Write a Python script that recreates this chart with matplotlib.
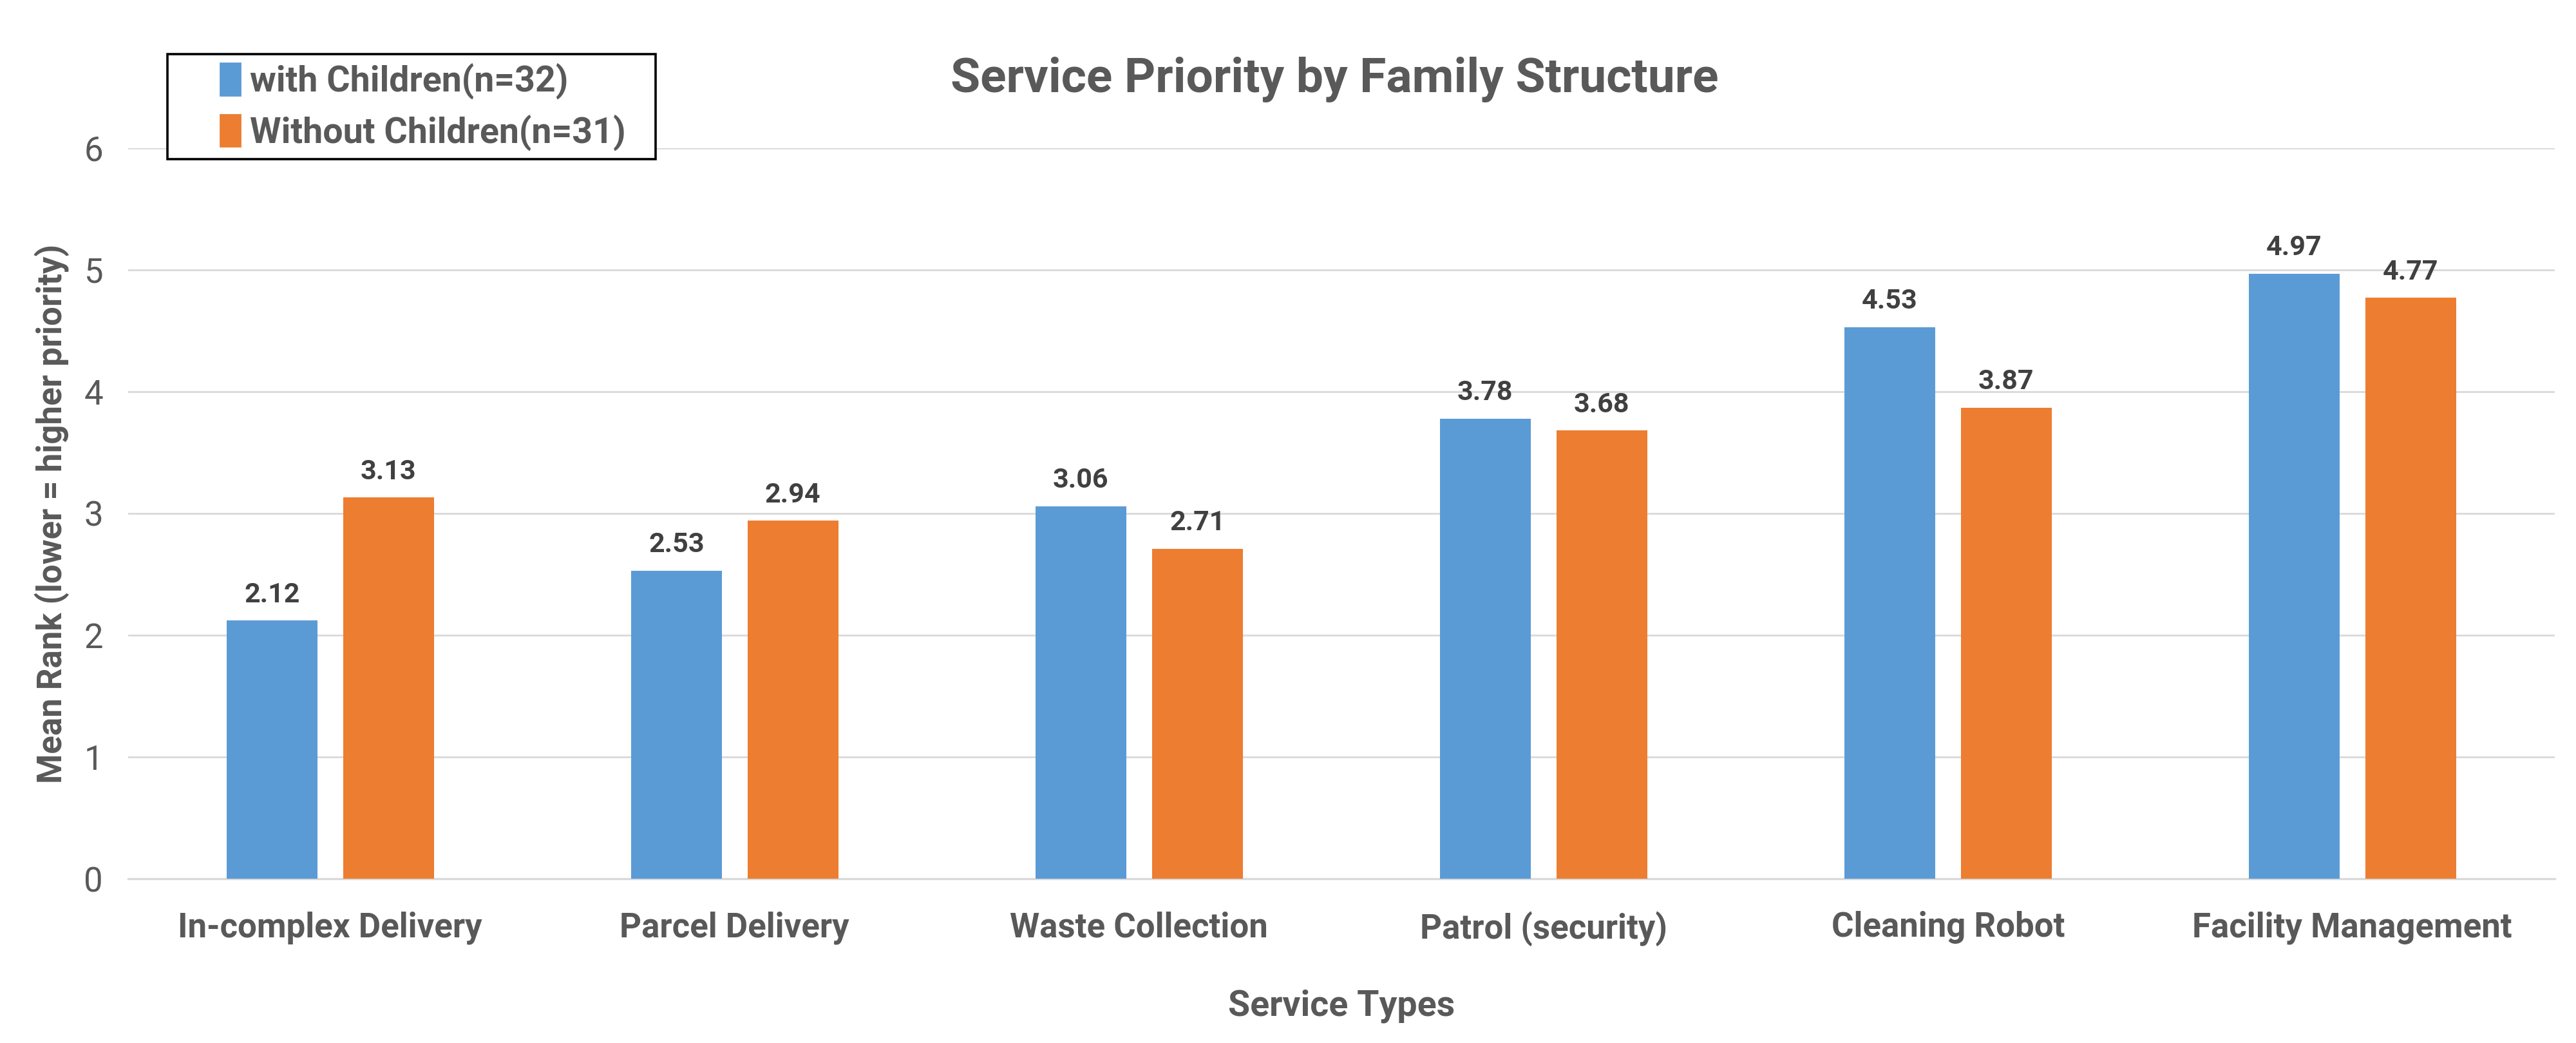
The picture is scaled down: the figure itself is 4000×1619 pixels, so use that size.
import numpy as np
import matplotlib
matplotlib.use("Agg")
import matplotlib.pyplot as plt
from matplotlib.patches import Patch, Rectangle

# --- data ---
categories = ["In-complex Delivery", "Parcel Delivery", "Waste Collection",
              "Patrol (security)", "Cleaning Robot", "Facility Management"]
with_children = [2.12, 2.53, 3.06, 3.78, 4.53, 4.97]
without_children = [3.13, 2.94, 2.71, 3.68, 3.87, 4.77]
series_names = ["with Children(n=32)", "Without Children(n=31)"]
y_ticks = [0, 1, 2, 3, 4, 5, 6]

BLUE = "#5B9BD5"
ORANGE = "#ED7D31"
GRAY = "#595959"
DARK = "#404040"
GRID = "#D9D9D9"

plt.rcParams["font.family"] = ["Roboto", "DejaVu Sans"]

fig = plt.figure(figsize=(20, 8.095), dpi=200)
ax = fig.add_axes([0.0497, 0.1575, 0.942, 0.7005])

x = np.arange(len(categories))
w = 0.224
off = 0.144
b1 = ax.bar(x - off, with_children, w, color=BLUE, zorder=3)
b2 = ax.bar(x + off, without_children, w, color=ORANGE, zorder=3)

# value labels
for bars, vals in ((b1, with_children), (b2, without_children)):
    for r, v in zip(bars, vals):
        ax.annotate(f"{v:.2f}", (r.get_x() + r.get_width() / 2, v),
                    xytext=(0, 7), textcoords="offset points",
                    ha="center", va="bottom", fontsize=15.5, fontweight="bold",
                    color=DARK)

ax.set_xlim(-0.5, len(categories) - 0.5)
ax.set_ylim(0, 6)
ax.set_yticks(y_ticks)
ax.set_xticks(x)
ax.set_xticklabels(categories, fontsize=19, fontweight="bold", color=GRAY)
ax.tick_params(axis="y", labelsize=19, labelcolor=GRAY, length=0, pad=14)
ax.tick_params(axis="x", length=0, pad=18)

ax.yaxis.grid(True, color=GRID, lw=1.0, zorder=0)
for s in ("top", "right", "left"):
    ax.spines[s].set_visible(False)
ax.spines["bottom"].set_color(GRID)
ax.spines["bottom"].set_linewidth(1.2)

ax.set_ylabel("Mean Rank (lower = higher priority)", fontsize=19,
              fontweight="bold", color=GRAY, labelpad=8)
ax.set_xlabel("Service Types", fontsize=20, fontweight="bold", color=GRAY,
              labelpad=24)

fig.text(0.518, 0.924, "Service Priority by Family Structure", ha="center",
         va="center", fontsize=27, fontweight="bold", color=GRAY)

# legend: frame drawn separately so the horizontal padding can be wider
fig.patches.append(Rectangle((0.0651, 0.8472), 0.1894, 0.1008,
                             transform=fig.transFigure, facecolor="white",
                             edgecolor="black", lw=1.3, zorder=5))
handles = [Patch(color=BLUE), Patch(color=ORANGE)]
leg = fig.legend(handles, series_names, loc="center left",
                 bbox_to_anchor=(0.0855, 0.8976), frameon=False,
                 fontsize=20, handlelength=0.55, handleheight=1.0,
                 handletextpad=0.28, borderpad=0, labelspacing=0.42,
                 borderaxespad=0)
leg.set_zorder(6)
for t in leg.get_texts():
    t.set_color(GRAY)
    t.set_fontweight("bold")

fig.savefig("out.png", dpi=200)
